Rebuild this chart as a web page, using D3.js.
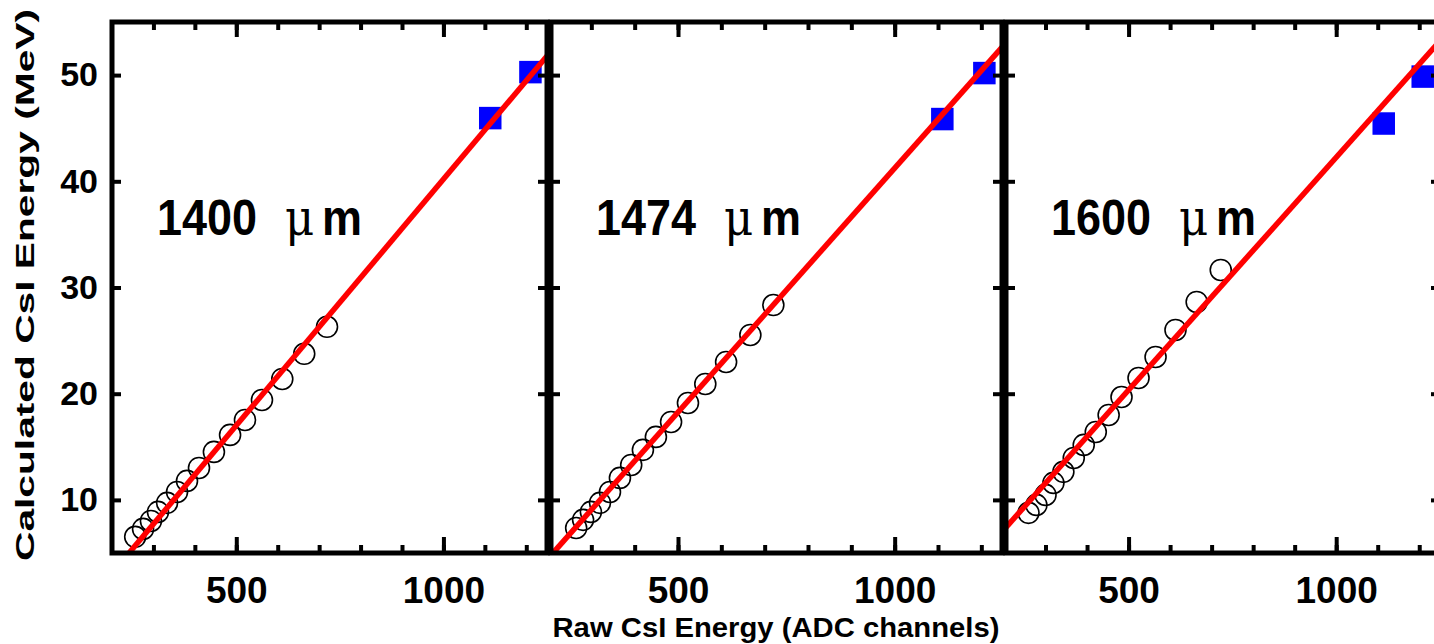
<!DOCTYPE html>
<html>
<head>
<meta charset="utf-8">
<script src="https://cdn.jsdelivr.net/npm/d3@7"></script>
<style>
  html, body { margin: 0; padding: 0; background: #ffffff; }
  svg { display: block; }
  text { font-family: "Liberation Sans", Arial, Helvetica, sans-serif; }
</style>
</head>
<body>
<svg id="chart" width="1434" height="644"></svg>
<script>
// Raw CsI energy (ADC channels) vs calculated CsI energy (MeV), three Si thicknesses
const thicknessLabels = ["1400", "1474", "1600"];

// Punch-through / calibration points (open circles)
const rawADC1 = [256, 275, 294, 311, 333, 357, 381, 410, 446, 485, 521, 562, 611, 664, 719];
const calcE1  = [6.52, 7.27, 8.02, 8.87, 9.72, 10.75, 11.79, 13.01, 14.52, 16.12, 17.53, 19.41, 21.39, 23.76, 26.30];
const rawADC2 = [265, 281, 299, 320, 343, 366, 392, 419, 449, 484, 523, 563, 611, 667, 720];
const calcE2  = [7.36, 8.12, 8.87, 9.72, 10.75, 12.07, 13.29, 14.71, 15.93, 17.34, 19.13, 20.92, 22.99, 25.53, 28.35];
const rawADC3 = [259, 278, 300, 319, 343, 368, 392, 421, 452, 483, 524, 565, 613, 664, 722];
const calcE3  = [8.78, 9.53, 10.47, 11.60, 12.64, 13.95, 15.18, 16.40, 18.00, 19.69, 21.48, 23.46, 26.00, 28.64, 31.65];

// Beam points (filled squares)
const beamADC1 = [1113, 1210];
const beamE1   = [45.95, 50.28];
const beamADC2 = [1110, 1207];
const beamE2   = [45.86, 50.19];
const beamADC3 = [1114.5, 1208.4];
const beamE3   = [45.44, 49.86];

// Linear fits, given at the ends of the channel range
const fitADC = [200, 1250];
const fitE1  = [3.09, 51.79];
const fitE2  = [4.47, 52.73];
const fitE3  = [7.20, 53.21];

// Axis ticks
const xDomain = [200, 1250];
const yDomain = [5, 55];
const xMinorTicks = [300, 400, 500, 600, 700, 800, 900, 1000, 1100, 1200];
const xMajorTicks = [500, 1000];
const yTicks = [10, 20, 30, 40, 50];

const panels = [
  { label: thicknessLabels[0], adc: rawADC1, e: calcE1, bADC: beamADC1, bE: beamE1, fit: fitE1,
    range: [112, 547], frame: [112, 547] },
  { label: thicknessLabels[1], adc: rawADC2, e: calcE2, bADC: beamADC2, bE: beamE2, fit: fitE2,
    range: [548, 1003], frame: [551, 1002] },
  { label: thicknessLabels[2], adc: rawADC3, e: calcE3, bADC: beamADC3, bE: beamE3, fit: fitE3,
    range: [1004, 1440], frame: [1006, 1440] }
];

const svg = d3.select("#chart");
svg.append("rect").attr("width", 1434).attr("height", 644).attr("fill", "#fff");

const yTop = 22, yBot = 553;
const y = d3.scaleLinear().domain(yDomain).range([yBot, yTop]);
const defs = svg.append("defs");

panels.forEach((p, i) => {
  const x = d3.scaleLinear().domain(xDomain).range(p.range);
  const g = svg.append("g");
  const [fx0, fx1] = p.frame;

  defs.append("clipPath").attr("id", "clip" + i)
    .append("rect").attr("x", fx0).attr("y", yTop).attr("width", fx1 - fx0).attr("height", yBot - yTop);

  const plot = g.append("g").attr("clip-path", `url(#clip${i})`);

  // open circles
  plot.selectAll("circle.pt").data(p.adc.map((a, k) => [a, p.e[k]]))
    .join("circle").attr("class", "pt")
    .attr("cx", d => x(d[0])).attr("cy", d => y(d[1])).attr("r", 10.5)
    .attr("fill", "none").attr("stroke", "#000").attr("stroke-width", 1.6);

  // filled squares
  const sq = 22.5;
  plot.selectAll("rect.beam").data(p.bADC.map((a, k) => [a, p.bE[k]]))
    .join("rect").attr("class", "beam")
    .attr("x", d => x(d[0]) - sq / 2).attr("y", d => y(d[1]) - sq / 2)
    .attr("width", sq).attr("height", sq).attr("fill", "#0000ff");

  // fit line
  plot.append("path")
    .datum(fitADC.map((a, k) => [a, p.fit[k]]))
    .attr("d", d3.line().x(d => x(d[0])).y(d => y(d[1])))
    .attr("stroke", "#ff0000").attr("stroke-width", 5.5).attr("fill", "none");

  // axes with inward ticks
  const styleAxis = sel => {
    sel.select(".domain").remove();
    sel.selectAll(".tick line").attr("stroke", "#000").attr("stroke-width", 4);
  };
  g.append("g").attr("transform", `translate(0,${yBot})`)
    .call(d3.axisBottom(x).tickValues(xMinorTicks).tickSizeInner(-8).tickFormat(""))
    .call(styleAxis);
  g.append("g").attr("transform", `translate(0,${yTop})`)
    .call(d3.axisTop(x).tickValues(xMinorTicks).tickSizeInner(-8).tickFormat(""))
    .call(styleAxis);
  g.append("g").attr("transform", `translate(0,${yTop})`)
    .call(d3.axisTop(x).tickValues(xMajorTicks).tickSizeInner(-15).tickFormat(""))
    .call(styleAxis);
  const bx = g.append("g").attr("transform", `translate(0,${yBot})`)
    .call(d3.axisBottom(x).tickValues(xMajorTicks).tickSizeInner(-16).tickPadding(24).tickFormat(d3.format("d")))
    .call(styleAxis);
  bx.selectAll("text").attr("font-size", 37).attr("font-weight", "bold").attr("fill", "#000")
    .attr("font-family", "Liberation Sans, Arial, sans-serif").attr("dy", "0.71em");

  const ly = g.append("g").attr("transform", `translate(${fx0},0)`)
    .call(d3.axisLeft(y).tickValues(yTicks).tickSizeInner(-9).tickPadding(14)
      .tickFormat(i === 0 ? d3.format("d") : ""))
    .call(styleAxis);
  ly.selectAll("text").attr("font-size", 34).attr("font-weight", "bold").attr("fill", "#000")
    .attr("font-family", "Liberation Sans, Arial, sans-serif");
  g.append("g").attr("transform", `translate(${fx1},0)`)
    .call(d3.axisRight(y).tickValues(yTicks).tickSizeInner(-9).tickFormat(""))
    .call(styleAxis);

  // frame
  g.append("rect").attr("x", fx0).attr("y", yTop).attr("width", fx1 - fx0).attr("height", yBot - yTop)
    .attr("fill", "none").attr("stroke", "#000").attr("stroke-width", 5);

  // thickness label
  const t = g.append("text")
    .attr("transform", `translate(${fx0 + 45},235) scale(1,1.12)`)
    .attr("font-size", 45).attr("font-weight", "bold").attr("fill", "#000");
  t.append("tspan").attr("x", 0).text(p.label);
  t.append("tspan").attr("x", 128).attr("font-family", "DejaVu Serif, Liberation Serif, serif")
    .attr("font-weight", "normal").attr("font-size", 45).text("μ");
  t.append("tspan").attr("x", 165).text("m");
});

// axis titles
svg.append("text")
  .attr("transform", "translate(34,285) rotate(-90)")
  .attr("text-anchor", "middle")
  .attr("font-size", 26).attr("font-weight", "bold").attr("fill", "#000")
  .attr("textLength", 552).attr("lengthAdjust", "spacingAndGlyphs")
  .text("Calculated CsI Energy (MeV)");

svg.append("text")
  .attr("x", 776).attr("y", 637)
  .attr("text-anchor", "middle")
  .attr("font-size", 27).attr("font-weight", "bold").attr("fill", "#000")
  .attr("textLength", 447).attr("lengthAdjust", "spacingAndGlyphs")
  .text("Raw CsI Energy (ADC channels)");
</script>
</body>
</html>
